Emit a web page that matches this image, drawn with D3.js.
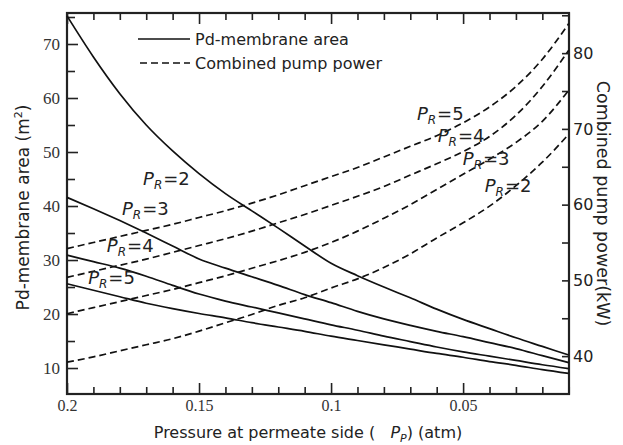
<!DOCTYPE html>
<html>
<head>
<meta charset="utf-8">
<script src="https://cdn.jsdelivr.net/npm/d3@7"></script>
<style>
  body { margin: 0; background: #fff; }
  .tick text.serif { font-family: "Liberation Serif", serif; }
  .sans { font-family: "DejaVu Sans", Verdana, sans-serif; }
</style>
</head>
<body>
<div id="chart"></div>
<script>
// pressure on permeate side (atm)
const pressure = [0.2, 0.19, 0.18, 0.17, 0.16, 0.15, 0.14, 0.13, 0.12, 0.11, 0.1,
  0.09, 0.08, 0.07, 0.06, 0.05, 0.04, 0.03, 0.02, 0.01];

// Pd-membrane area (m2), left axis
const areaPR2 = [75.2, 67.6, 60.8, 55.0, 50.2, 46.0, 42.3, 39.1, 35.9, 32.6, 29.4,
  27.1, 25.0, 23.0, 20.9, 19.0, 17.3, 15.6, 14.0, 12.4];
const areaPR3 = [41.6, 39.5, 37.3, 35.0, 32.6, 30.2, 28.5, 26.9, 25.3, 23.6, 22.1,
  20.5, 19.1, 17.9, 16.8, 15.8, 14.7, 13.6, 12.3, 11.0];
const areaPR4 = [30.9, 29.7, 28.5, 27.0, 25.3, 23.7, 22.4, 21.3, 20.2, 19.1, 18.0,
  17.0, 15.9, 14.9, 13.9, 13.0, 12.2, 11.4, 10.6, 9.9];
const areaPR5 = [25.6, 24.4, 23.2, 22.0, 21.0, 20.1, 19.3, 18.4, 17.6, 16.8, 15.9,
  15.1, 14.3, 13.5, 12.7, 12.0, 11.2, 10.5, 9.7, 9.0];

// combined pump power (kW), right axis
const powerPR2 = [39.2, 39.9, 40.7, 41.5, 42.3, 43.3, 44.4, 45.5, 46.7, 47.7, 49.0,
  50.2, 51.7, 53.5, 55.6, 57.6, 59.8, 62.5, 65.6, 69.3];
const powerPR3 = [45.6, 46.4, 47.2, 48.0, 48.8, 49.7, 50.6, 51.6, 52.6, 53.7, 55.0,
  56.5, 58.2, 60.0, 62.0, 64.0, 66.0, 68.2, 71.0, 75.1];
const powerPR4 = [50.4, 51.2, 52.0, 52.8, 53.7, 54.6, 55.5, 56.5, 57.6, 58.7, 59.9,
  61.1, 62.4, 63.9, 65.4, 67.0, 69.0, 71.8, 75.6, 80.4];
const powerPR5 = [54.2, 55.0, 55.8, 56.6, 57.4, 58.3, 59.2, 60.2, 61.3, 62.5, 63.7,
  64.9, 66.3, 67.7, 69.1, 70.8, 72.9, 75.6, 79.2, 83.9];

const xTicks = [0.2, 0.15, 0.1, 0.05];
const xTickLabels = ["0.2", "0.15", "0.1", "0.05"];
const xMinor = [0.19, 0.18, 0.17, 0.16, 0.14, 0.13, 0.12, 0.11, 0.09, 0.08, 0.07,
  0.06, 0.04, 0.03, 0.02, 0.01];
const leftTicks = [10, 20, 30, 40, 50, 60, 70];
const leftMinor = [15, 25, 35, 45, 55, 65, 75];
const rightTicks = [40, 50, 60, 70, 80];
const rightMinor = [45, 55, 65, 75, 85];

// curve labels: [PR value, pressure, value]
const areaLabels = [["2", 0.1712, 43.9], ["3", 0.1792, 38.3], ["4", 0.1849, 31.5], ["5", 0.192, 25.6]];
const powerLabels = [["5", 0.0675, 71.2], ["4", 0.0596, 68.3], ["3", 0.0501, 65.2], ["2", 0.0418, 61.65]];

const width = 623,
  height = 445,
  margin = { top: 13, right: 54, bottom: 51, left: 67 };

const svg = d3
  .select("#chart")
  .append("svg")
  .attr("width", width)
  .attr("height", height);

const x = d3.scaleLinear().domain([0.2, 0.0099]).range([margin.left, width - margin.right]);
const yL = d3.scaleLinear().domain([5.19, 75.74]).range([height - margin.bottom, margin.top]);
const yR = d3.scaleLinear().domain([35, 85.3]).range([height - margin.bottom, margin.top]);

const bottom = height - margin.bottom,
  right = width - margin.right;

function styleAxis(g) {
  g.select(".domain").remove();
  g.selectAll(".tick line").attr("stroke", "#222").attr("stroke-width", 1.6);
}

// bottom axis
svg.append("g")
  .attr("transform", `translate(0,${bottom})`)
  .call(d3.axisBottom(x).tickValues(xTicks).tickSize(-11).tickPadding(6)
    .tickFormat((d, i) => xTickLabels[i]))
  .call(styleAxis)
  .call(g => g.selectAll("text").attr("class", "serif").style("font-size", "16px").attr("fill", "#333"));
svg.append("g")
  .attr("transform", `translate(0,${bottom})`)
  .call(d3.axisBottom(x).tickValues(xMinor).tickSize(-7).tickFormat(""))
  .call(styleAxis);

// top axis
svg.append("g")
  .attr("transform", `translate(0,${margin.top})`)
  .call(d3.axisTop(x).tickValues(xTicks).tickSize(-11).tickFormat(""))
  .call(styleAxis);
svg.append("g")
  .attr("transform", `translate(0,${margin.top})`)
  .call(d3.axisTop(x).tickValues(xMinor).tickSize(-7).tickFormat(""))
  .call(styleAxis);

// left axis
svg.append("g")
  .attr("transform", `translate(${margin.left},0)`)
  .call(d3.axisLeft(yL).tickValues(leftTicks).tickSize(-11).tickPadding(7))
  .call(styleAxis)
  .call(g => g.selectAll("text").attr("class", "serif").style("font-size", "17px").attr("fill", "#333"));
svg.append("g")
  .attr("transform", `translate(${margin.left},0)`)
  .call(d3.axisLeft(yL).tickValues(leftMinor).tickSize(-8).tickFormat(""))
  .call(styleAxis);

// right axis
svg.append("g")
  .attr("transform", `translate(${right},0)`)
  .call(d3.axisRight(yR).tickValues(rightTicks).tickSize(-7).tickPadding(4))
  .call(styleAxis)
  .call(g => g.selectAll("text").attr("class", "sans").style("font-size", "16px").attr("fill", "#222"));
svg.append("g")
  .attr("transform", `translate(${right},0)`)
  .call(d3.axisRight(yR).tickValues(rightMinor.filter(d => d < 85.3)).tickSize(-7).tickFormat(""))
  .call(styleAxis);

// frame
svg.append("rect")
  .attr("x", margin.left)
  .attr("y", margin.top)
  .attr("width", right - margin.left)
  .attr("height", bottom - margin.top)
  .attr("fill", "none")
  .attr("stroke", "#222")
  .attr("stroke-width", 2.2);

// curves
const areaLine = d3.line()
  .x((d, i) => x(pressure[i]))
  .y(d => yL(d))
  .curve(d3.curveMonotoneX);
const powerLine = d3.line()
  .x((d, i) => x(pressure[i]))
  .y(d => yR(d))
  .curve(d3.curveMonotoneX);

[areaPR2, areaPR3, areaPR4, areaPR5].forEach(s => {
  svg.append("path")
    .attr("d", areaLine(s))
    .attr("fill", "none")
    .attr("stroke", "#111")
    .attr("stroke-width", 1.7);
});

[powerPR2, powerPR3, powerPR4, powerPR5].forEach(s => {
  svg.append("path")
    .attr("d", powerLine(s))
    .attr("fill", "none")
    .attr("stroke", "#111")
    .attr("stroke-width", 1.7)
    .attr("stroke-dasharray", "7,4");
});

// PR labels
function prLabel(px, py, v) {
  const t = svg.append("text")
    .attr("class", "sans")
    .attr("x", px)
    .attr("y", py)
    .attr("fill", "#222")
    .style("font-size", "18px");
  t.append("tspan").style("font-style", "italic").text("P");
  t.append("tspan").style("font-style", "italic").style("font-size", "12px").attr("dy", 4).text("R");
  t.append("tspan").attr("dy", -4).attr("dx", 1).text("=" + v);
}
areaLabels.forEach(d => prLabel(x(d[1]), yL(d[2]), d[0]));
powerLabels.forEach(d => prLabel(x(d[1]), yR(d[2]), d[0]));

// legend
const legend = svg.append("g").attr("class", "sans").style("font-size", "16px").attr("fill", "#222");
legend.append("line").attr("x1", 138).attr("x2", 190).attr("y1", 39).attr("y2", 39)
  .attr("stroke", "#111").attr("stroke-width", 1.7);
legend.append("text").attr("x", 195).attr("y", 45).text("Pd-membrane area");
legend.append("line").attr("x1", 140).attr("x2", 190).attr("y1", 63).attr("y2", 63)
  .attr("stroke", "#111").attr("stroke-width", 1.7).attr("stroke-dasharray", "7,4");
legend.append("text").attr("x", 195).attr("y", 69).text("Combined pump power");

// axis titles
const xt = svg.append("text")
  .attr("class", "sans")
  .attr("x", 308)
  .attr("y", 438)
  .attr("text-anchor", "middle")
  .attr("fill", "#222")
  .style("font-size", "16px")
  .attr("xml:space", "preserve");
xt.append("tspan").text("Pressure at permeate side (   ");
xt.append("tspan").style("font-style", "italic").text("P");
xt.append("tspan").style("font-style", "italic").style("font-size", "11px").attr("dy", 4).text("P");
xt.append("tspan").attr("dy", -4).text(") (atm)");

const yt = svg.append("text")
  .attr("class", "sans")
  .attr("transform", `translate(29,${(margin.top + bottom) / 2 + 4}) rotate(-90)`)
  .attr("text-anchor", "middle")
  .attr("fill", "#222")
  .style("font-size", "17px");
yt.append("tspan").text("Pd-membrane area (m");
yt.append("tspan").style("font-size", "11px").attr("dy", -7).text("2");
yt.append("tspan").attr("dy", 7).text(")");

svg.append("text")
  .attr("class", "sans")
  .attr("transform", `translate(597,${(margin.top + bottom) / 2}) rotate(90)`)
  .attr("text-anchor", "middle")
  .attr("fill", "#222")
  .style("font-size", "17.5px")
  .text("Combined pump power(kW)");
</script>
</body>
</html>
